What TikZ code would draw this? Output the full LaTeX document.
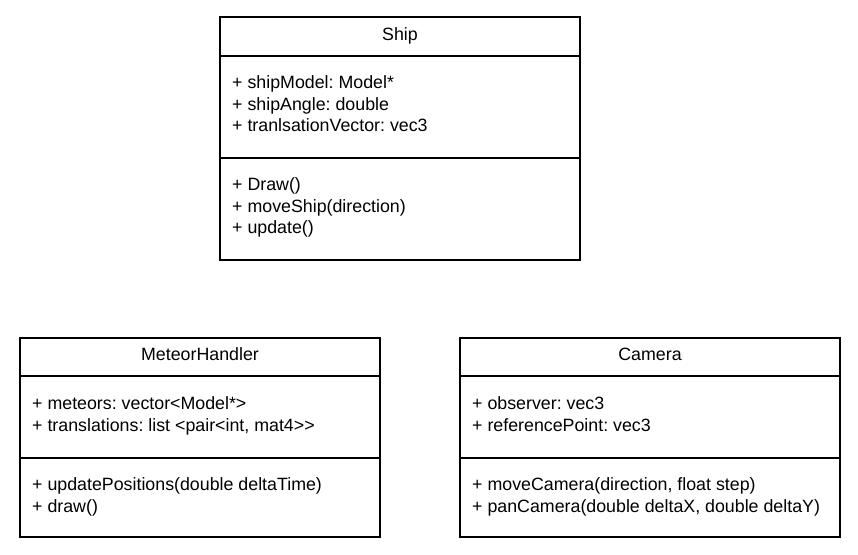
\documentclass[tikz,border=0pt]{standalone}
\usepackage{fontspec}
\setmainfont{Liberation Sans}
\frenchspacing
\begin{document}
\begin{tikzpicture}[x=1pt,y=-1pt,
  box/.style={draw=black,line width=1.3pt},
  sep/.style={draw=black,line width=1.3pt},
  txt/.style={anchor=mid west,inner sep=0pt,font=\fontsize{17.8}{21}\selectfont},
  ttl/.style={anchor=mid,inner sep=0pt,font=\fontsize{17.8}{21}\selectfont}]
\useasboundingbox[fill=white] (0,0) rectangle (858,554);
% Ship
\draw[box] (220,17) rectangle (580,260);
\draw[sep] (220,56) -- (580,56);
\draw[sep] (220,158) -- (580,158);
\node[ttl] (shipt) at (400,38) {Ship};
\node[txt] (s1) at (232,86) {+ shipModel: Model*};
\node[txt] (s2) at (232,107.5) {+ shipAngle: double};
\node[txt] (s3) at (232,129) {+ tranlsationVector: vec3};
\node[txt] (s4) at (232,188) {+ Draw()};
\node[txt] (s5) at (232,209.5) {+ moveShip(direction)};
\node[txt] (s6) at (232,231) {+ update()};
% MeteorHandler
\draw[box] (20,338) rectangle (380,537);
\draw[sep] (20,376) -- (380,376);
\draw[sep] (20,458) -- (380,458);
\node[ttl] (mt) at (200,358) {MeteorHandler};
\node[txt] (m1) at (32,407) {+ meteors: vector<Model*>};
\node[txt] (m2) at (32,428.5) {+ translations: list <pair<int, mat4>{}>};
\node[txt] (m3) at (32,488) {+ updatePositions(double deltaTime)};
\node[txt] (m4) at (32,509.5) {+ draw()};
% Camera
\draw[box] (460,338) rectangle (840,537);
\draw[sep] (460,376) -- (840,376);
\draw[sep] (460,458) -- (840,458);
\node[ttl] (ct) at (650,358) {Camera};
\node[txt] (c1) at (472,407) {+ observer: vec3};
\node[txt] (c2) at (472,428.5) {+ referencePoint: vec3};
\node[txt] (c3) at (472,488) {+ moveCamera(direction, float step)};
\node[txt] (c4) at (472,509.5) {+ panCamera(double deltaX, double deltaY)};
\end{tikzpicture}
\end{document}
